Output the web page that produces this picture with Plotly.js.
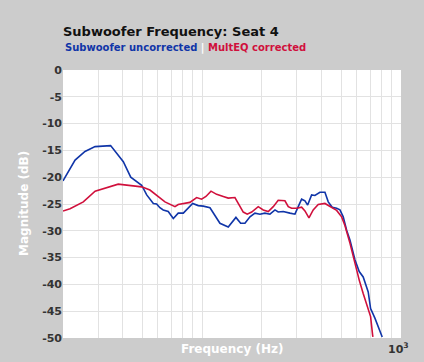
<!DOCTYPE html>
<html>
<head>
<meta charset="utf-8">
<script src="https://cdn.plot.ly/plotly-3.0.1.min.js"></script>
<style>html,body{margin:0;padding:0;background:#cccccc;}#chart{width:424px;height:362px;}</style>
</head>
<body>
<div id="chart"></div>
<script>
// Subwoofer uncorrected (blue)
var uncorrectedFreq = [20, 23.0, 25.8, 29.0, 34.7, 40.2, 43.8, 46.9, 49.7, 52.7, 54.7, 56.9, 59.1, 61.4, 63.8, 67.6, 71.7, 75.9, 80.5, 83.7, 89.7, 95.7, 101.4, 109.6, 116.1, 123.0, 135.4, 148.0, 156.3, 164.3, 174.1, 184.4, 195.4, 207, 219.4, 232.6, 241.4, 255.8, 276.6, 293, 304.4, 316.6, 329, 339.4, 355.4, 369.2, 391.2, 414.6, 430.8, 451.2, 474.8, 493.2, 512.4, 533, 553.8, 586.8, 616.6, 645.6, 684.2, 703.4, 739.4, 777.2, 804.6];
var uncorrectedDb = [-20.7, -16.8, -15.2, -14.3, -14.1, -17.1, -20.0, -20.8, -21.5, -23.3, -24.1, -24.9, -25.0, -25.7, -26.1, -26.4, -27.7, -26.7, -26.7, -26.1, -24.9, -25.3, -25.4, -25.7, -27.1, -28.6, -29.3, -27.5, -28.6, -28.6, -27.4, -26.7, -26.9, -26.7, -26.9, -26.1, -26.5, -26.4, -26.7, -26.9, -25.5, -24.1, -24.4, -25.2, -23.3, -23.4, -22.8, -22.8, -24.6, -25.6, -25.8, -26.1, -27.4, -29.9, -31.7, -35.4, -37.6, -38.6, -41.4, -44.5, -46.3, -48.5, -49.8];

// MultEQ corrected (red)
var correctedFreq = [20, 21.7, 25.3, 29.0, 37.9, 43.4, 49.7, 54.7, 59.1, 61.4, 65.1, 73.1, 75.9, 86.9, 93.9, 99.5, 104.6, 110.9, 118.4, 127.8, 135.4, 146.3, 152, 161.1, 168.7, 177.6, 191.6, 203, 215.2, 228, 241.4, 261, 271.2, 282, 298.8, 316.6, 329, 344.6, 362, 383.6, 414.6, 439.4, 474.8, 503, 522.6, 553.8, 586.8, 616.6, 645.6, 676.2, 703.4, 719.8, 722.4];
var correctedDb = [-26.3, -25.9, -24.6, -22.6, -21.3, -21.5, -21.8, -22.4, -23.4, -23.9, -24.6, -25.5, -25.1, -24.7, -23.8, -24.1, -23.6, -22.6, -23.2, -23.6, -23.9, -23.8, -24.9, -26.5, -26.9, -26.5, -25.5, -26.1, -26.4, -25.5, -24.3, -24.4, -25.5, -25.8, -25.8, -25.6, -26.3, -27.6, -26.1, -25.1, -24.9, -25.5, -26.2, -27.4, -29.0, -32.3, -36.1, -39.2, -41.7, -44.2, -46.0, -49.4, -49.8];

// Axis ticks
var xGridVals = [30, 40, 50, 60, 70, 80, 90, 100, 200, 300, 400, 500, 600, 700, 800, 900, 1000];
var xLabelVal = 1000;
var xLabelText = '10<sup>3</sup>';
var yTickVals = [0, -5, -10, -15, -20, -25, -30, -35, -40, -45, -50];
var yTickText = ['0', '-5', '-10', '-15', '-20', '-25', '-30', '-35', '-40', '-45', '-50'];

var font = 'Verdana, "DejaVu Sans", sans-serif';

var traces = [
  {x: uncorrectedFreq, y: uncorrectedDb, type: 'scatter', mode: 'lines', name: 'Subwoofer uncorrected',
   line: {color: '#1035a8', width: 1.6}},
  {x: correctedFreq, y: correctedDb, type: 'scatter', mode: 'lines', name: 'MultEQ corrected',
   line: {color: '#d0103c', width: 1.6}}
];

var layout = {
  width: 424, height: 362,
  margin: {l: 63, r: 23, t: 70, b: 24},
  paper_bgcolor: '#cccccc',
  plot_bgcolor: '#ffffff',
  showlegend: false,
  font: {family: font, color: '#333333'},
  title: {
    text: '<b>Subwoofer Frequency: Seat 4</b>',
    font: {family: font, size: 13, color: '#111111'},
    x: 63/424, xanchor: 'left', xref: 'container',
    y: 1 - 31/362, yanchor: 'middle', yref: 'container'
  },
  annotations: [{
    xref: 'paper', yref: 'paper', x: 0, y: 1 + (70 - 48)/268,
    xanchor: 'left', yanchor: 'middle', showarrow: false,
    text: '<b><span style="color:#1035a8">Subwoofer uncorrected</span> <span style="color:#ffffff">|</span> <span style="color:#d0103c">MultEQ corrected</span></b>',
    font: {family: font, size: 10}
  }, {
    xref: 'paper', yref: 'paper', x: 0.5, y: (338 - 349)/268,
    xanchor: 'center', yanchor: 'middle', showarrow: false,
    text: '<b>Frequency (Hz)</b>',
    font: {family: font, size: 12, color: '#ffffff'}
  }, {
    xref: 'paper', yref: 'paper', x: (24 - 63)/338, y: 0.5,
    xanchor: 'center', yanchor: 'middle', showarrow: false, textangle: -90,
    text: '<b>Magnitude (dB)</b>',
    font: {family: font, size: 12, color: '#ffffff'}
  }, {
    xref: 'x', yref: 'paper', x: Math.log10(xLabelVal), y: (338 - 348)/268,
    xanchor: 'center', yanchor: 'middle', showarrow: false, xshift: -3,
    text: '<b>' + xLabelText + '</b>',
    font: {family: font, size: 11, color: '#333333'}
  }],
  xaxis: {
    type: 'log',
    range: [Math.log10(20), 3],
    tickmode: 'array', tickvals: xGridVals,
    showticklabels: false,
    showgrid: true, gridcolor: '#e2e2e2', gridwidth: 1,
    zeroline: false, showline: false, ticks: '',
    fixedrange: true
  },
  yaxis: {
    range: [-50, 0],
    tickmode: 'array', tickvals: yTickVals,
    ticktext: yTickText.map(function (t) { return '<b>' + t + '</b>'; }),
    showgrid: true, gridcolor: '#e2e2e2', gridwidth: 1,
    zeroline: false, showline: false, ticks: '',
    tickfont: {family: font, size: 11, color: '#333333'},
    fixedrange: true
  }
};

Plotly.newPlot('chart', traces, layout, {displayModeBar: false, staticPlot: true});
</script>
</body>
</html>
